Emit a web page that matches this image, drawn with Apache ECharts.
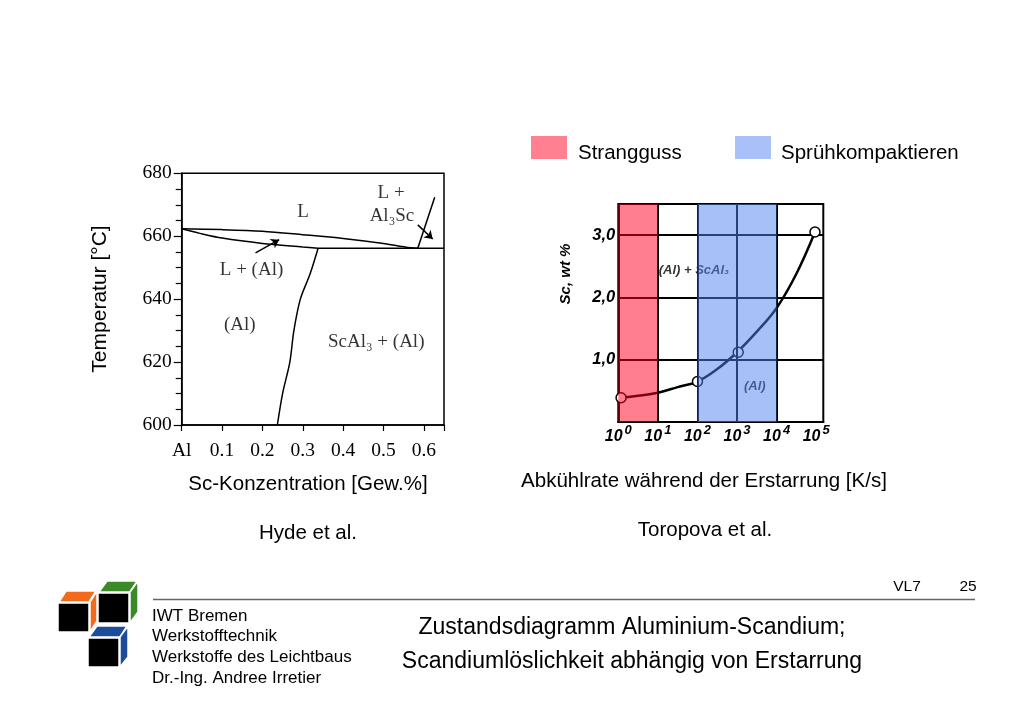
<!DOCTYPE html>
<html><head><meta charset="utf-8">
<script src="https://cdn.jsdelivr.net/npm/echarts@6/dist/echarts.min.js"></script>
<style>html,body{margin:0;padding:0;background:#fff}#c{width:1024px;height:724px}</style>
</head><body><div id="c"></div>
<script>
// ---------- Left chart: Al-Sc phase diagram (Hyde et al.) ----------
const liquidus = [[0,662.35],[0.1,662.1],[0.2,661.6],[0.3,660.5],[0.4,659.3],[0.5,657.7],[0.556,656.5],[0.585,656.2]];
const solidus = [[0,662.35],[0.045,660.9],[0.1,659.4],[0.2,657.7],[0.3,656.6],[0.338,656.2]];
const solvus = [[0.338,656.2],[0.318,648],[0.294,640],[0.278,630],[0.268,620],[0.25,610],[0.237,600]];
const eutectic = [[0.338,656.2],[0.65,656.2]];
const al3scLiquidus = [[0.585,656.2],[0.627,672.4]];
const arrowLines = [[[0.183,654.7],[0.2415,658.9]],[[0.585,663.6],[0.622,659.1]]];
const phaseLabels = [
  {value:[0.301,667.8], text:'L'},
  {value:[0.519,673.8], text:'L +'},
  {value:[0.521,666.4], text:'Al₃Sc'},
  {value:[0.173,649.4], text:'L + (Al)'},
  {value:[0.144,631.9], text:'(Al)'},
  {value:[0.482,626.3], text:'ScAl₃ + (Al)'}
];

// ---------- Right chart: Sc solubility vs cooling rate (Toropova et al.) ----------
// x values are log10 of cooling rate [K/s]
const curveX = [0.07,0.5,1,1.5,2,2.5,3,3.5,4,4.5,4.97];
const curveY = [0.39,0.42,0.47,0.56,0.65,0.85,1.12,1.45,1.83,2.38,3.05];
const pointX = [0.07,2,3.03,4.97];
const pointY = [0.39,0.65,1.12,3.05];
const decadeGridLines = [1,2,3,4];
const strangBand = [0,1];
const sprueBand = [2,4];
const rightLabels = [
  {value:[1.91,2.44], text:'(Al) + ScAl₃'},
  {value:[3.45,0.57], text:'(Al)'}
];

const serif = 'Liberation Serif';
const sans = 'Liberation Sans';
const zipXY = (xs, ys) => xs.map((x,i)=>[x, ys[i]]);
const blackLine = (data, smooth) => ({
  type:'line', xAxisIndex:0, yAxisIndex:0, data, smooth: smooth||0, symbol:'none',
  lineStyle:{color:'#000', width:1.5}, z:3, silent:true
});

const chart = echarts.init(document.getElementById('c'), null, {renderer:'canvas'});
const option = {
  animation:false,
  backgroundColor:'#fff',
  grid:[
    {left:181.7, top:173.3, width:262.3, height:251.7, show:true, borderColor:'#000', borderWidth:1.5, backgroundColor:'transparent'},
    {left:618.3, top:204, width:205, height:218, show:true, borderColor:'#000', borderWidth:2, backgroundColor:'transparent'}
  ],
  xAxis:[
    {gridIndex:0, type:'value', min:0, max:0.65, interval:0.1,
     axisLine:{lineStyle:{color:'#000', width:1.5}},
     axisTick:{show:true, length:6, lineStyle:{color:'#000', width:1.2}},
     splitLine:{show:false},
     axisLabel:{margin:16, color:'#000', fontFamily:serif, fontSize:19.5,
       formatter:v=>{const r=Math.round(v*10)/10; if(Math.abs(v-r)>1e-6) return ''; return r===0?'Al':r.toFixed(1);}}},
    {gridIndex:1, type:'value', min:0, max:5.18, interval:1,
     axisLine:{lineStyle:{color:'#000', width:2}},
     axisTick:{show:false},
     splitLine:{show:false},
     axisLabel:{margin:7, color:'#000', fontFamily:sans,
       formatter:v=>Number.isInteger(v)?'{b|10}{s|'+v+'}':'',
       rich:{b:{fontSize:16, fontWeight:'bold', fontStyle:'italic', fontFamily:sans, lineHeight:16, verticalAlign:'bottom'},
             s:{fontSize:13, fontWeight:'bold', fontStyle:'italic', fontFamily:sans, lineHeight:13, padding:[0,0,8,2], verticalAlign:'bottom'}}}}
  ],
  yAxis:[
    {gridIndex:0, type:'value', min:600, max:680, interval:20,
     axisLine:{lineStyle:{color:'#000', width:1.5}},
     axisTick:{show:true, length:8, lineStyle:{color:'#000', width:1.2}},
     minorTick:{show:true, splitNumber:4, length:6, lineStyle:{color:'#000', width:1.2}},
     splitLine:{show:false},
     axisLabel:{margin:10, color:'#000', fontFamily:serif, fontSize:19.5}},
    {gridIndex:1, type:'value', min:0, max:3.5, interval:1,
     axisLine:{lineStyle:{color:'#000', width:2}},
     axisTick:{show:false},
     splitLine:{show:true, lineStyle:{color:'#000', width:2}},
     axisLabel:{margin:3, color:'#000', fontFamily:sans, fontSize:16.5, fontWeight:'bold', fontStyle:'italic',
       formatter:v=>(Number.isInteger(v)&&v>0)?v.toFixed(1).replace('.',','):''}}
  ],
  series:[
    blackLine(liquidus, 0.3),
    blackLine(solidus, 0.3),
    blackLine(solvus, 0.3),
    blackLine(eutectic),
    blackLine(al3scLiquidus),
    {type:'lines', coordinateSystem:'cartesian2d', xAxisIndex:0, yAxisIndex:0,
     data:arrowLines.map(c=>({coords:c})), symbol:['none','arrow'], symbolSize:8,
     lineStyle:{color:'#000', width:1.5, opacity:1}, z:3, silent:true},
    {type:'scatter', xAxisIndex:0, yAxisIndex:0, symbolSize:0, data:phaseLabels.map(p=>({value:p.value, text:p.text})),
     label:{show:true, position:'inside', color:'#000', fontFamily:serif, fontSize:19,
       formatter:p=>p.data.text}, z:4, silent:true},
    // right chart: decade grid lines
    {type:'line', xAxisIndex:1, yAxisIndex:1, data:[], z:2, silent:true,
     markLine:{silent:true, symbol:['none','none'], label:{show:false},
       lineStyle:{color:'#000', width:2, type:'solid'},
       data:decadeGridLines.map(v=>({xAxis:v}))}},
    {type:'line', xAxisIndex:1, yAxisIndex:1, data:zipXY(curveX, curveY), smooth:0.4, symbol:'none',
     lineStyle:{color:'#000', width:2.5}, z:3, silent:true},
    {type:'scatter', xAxisIndex:1, yAxisIndex:1, data:zipXY(pointX, pointY), symbol:'circle', symbolSize:10,
     itemStyle:{color:'#fff', borderColor:'#000', borderWidth:1.5, opacity:1}, z:4, silent:true},
    {type:'scatter', xAxisIndex:1, yAxisIndex:1, symbolSize:0, data:rightLabels.map(p=>({value:p.value, text:p.text})),
     label:{show:true, position:'inside', color:'#000', fontFamily:sans, fontSize:13, fontWeight:'bold', fontStyle:'italic',
       formatter:p=>p.data.text}, z:4, silent:true},
    {type:'line', xAxisIndex:1, yAxisIndex:1, data:[], z:10, silent:true,
     markArea:{silent:true, z:10, data:[
       [{xAxis:strangBand[0], itemStyle:{color:'rgba(255,0,32,0.5)'}},{xAxis:strangBand[1]}],
       [{xAxis:sprueBand[0], itemStyle:{color:'rgba(81,129,241,0.5)'}},{xAxis:sprueBand[1]}]
     ]}}
  ],
  graphic:[
    // legend
    {type:'rect', shape:{x:531, y:136, width:36, height:23}, style:{fill:'#fe8091'}},
    {type:'text', x:578, y:153, style:{text:'Strangguss', font:'20.5px '+sans, fill:'#000', verticalAlign:'middle'}},
    {type:'rect', shape:{x:735, y:136, width:36, height:23}, style:{fill:'#a9c1f8'}},
    {type:'text', x:781, y:153, style:{text:'Sprühkompaktieren', font:'20.5px '+sans, fill:'#000', verticalAlign:'middle'}},
    // axis titles
    {type:'text', x:100, y:299, rotation:Math.PI/2, style:{text:'Temperatur [°C]', font:'21px '+sans, fill:'#000', align:'center', verticalAlign:'middle'}},
    {type:'text', x:308, y:484, style:{text:'Sc-Konzentration [Gew.%]', font:'20.5px '+sans, fill:'#000', align:'center', verticalAlign:'middle'}},
    {type:'text', x:704, y:481, style:{text:'Abkühlrate während der Erstarrung [K/s]', font:'20.5px '+sans, fill:'#000', align:'center', verticalAlign:'middle'}},
    {type:'text', x:566, y:274, rotation:Math.PI/2, style:{text:'Sc, wt %', font:'italic bold 15px '+sans, fill:'#000', align:'center', verticalAlign:'middle'}},
    {type:'text', x:308, y:533, style:{text:'Hyde et al.', font:'20.5px '+sans, fill:'#000', align:'center', verticalAlign:'middle'}},
    {type:'text', x:705, y:530, style:{text:'Toropova et al.', font:'20.5px '+sans, fill:'#000', align:'center', verticalAlign:'middle'}},
    // footer
    {type:'text', x:907, y:587, style:{text:'VL7', font:'15.5px '+sans, fill:'#000', align:'center', verticalAlign:'middle'}},
    {type:'text', x:968, y:587, style:{text:'25', font:'15.5px '+sans, fill:'#000', align:'center', verticalAlign:'middle'}},
    {type:'line', shape:{x1:153, y1:599.5, x2:975, y2:599.5}, style:{stroke:'#666', lineWidth:1.5}},
    {type:'text', x:152, y:616, style:{text:'IWT Bremen', font:'17px '+sans, fill:'#000', verticalAlign:'middle'}},
    {type:'text', x:152, y:636, style:{text:'Werkstofftechnik', font:'17px '+sans, fill:'#000', verticalAlign:'middle'}},
    {type:'text', x:152, y:657, style:{text:'Werkstoffe des Leichtbaus', font:'17px '+sans, fill:'#000', verticalAlign:'middle'}},
    {type:'text', x:152, y:678, style:{text:'Dr.-Ing. Andree Irretier', font:'17px '+sans, fill:'#000', verticalAlign:'middle'}},
    {type:'text', x:632, y:628, style:{text:'Zustandsdiagramm Aluminium-Scandium;', font:'23px '+sans, fill:'#000', align:'center', verticalAlign:'middle'}},
    {type:'text', x:632, y:662, style:{text:'Scandiumlöslichkeit abhängig von Erstarrung', font:'23px '+sans, fill:'#000', align:'center', verticalAlign:'middle'}},
    // logo
    {type:'rect', shape:{x:58, y:603, width:31, height:29}, style:{fill:'#000', stroke:'#fff', lineWidth:1.5}},
    {type:'polygon', shape:{points:[[59,602],[66,591],[96,591],[89,602]]}, style:{fill:'#f26b1d', stroke:'#fff', lineWidth:1.5}},
    {type:'polygon', shape:{points:[[90,602],[97,591],[97,621],[90,632]]}, style:{fill:'#f26b1d', stroke:'#fff', lineWidth:1.5}},
    {type:'rect', shape:{x:98, y:593, width:31, height:30}, style:{fill:'#000', stroke:'#fff', lineWidth:1.5}},
    {type:'polygon', shape:{points:[[99,592],[107,581],[137,581],[130,592]]}, style:{fill:'#3a8a27', stroke:'#fff', lineWidth:1.5}},
    {type:'polygon', shape:{points:[[130,592],[138,581],[138,612],[130,623]]}, style:{fill:'#3a8a27', stroke:'#fff', lineWidth:1.5}},
    {type:'rect', shape:{x:88, y:638, width:31, height:29}, style:{fill:'#000', stroke:'#fff', lineWidth:1.5}},
    {type:'polygon', shape:{points:[[89,637],[97,626],[127,626],[120,637]]}, style:{fill:'#1d4c9a', stroke:'#fff', lineWidth:1.5}},
    {type:'polygon', shape:{points:[[120,637],[128,626],[128,657],[120,667]]}, style:{fill:'#1d4c9a', stroke:'#fff', lineWidth:1.5}}
  ]
};
chart.setOption(option);
</script></body></html>
